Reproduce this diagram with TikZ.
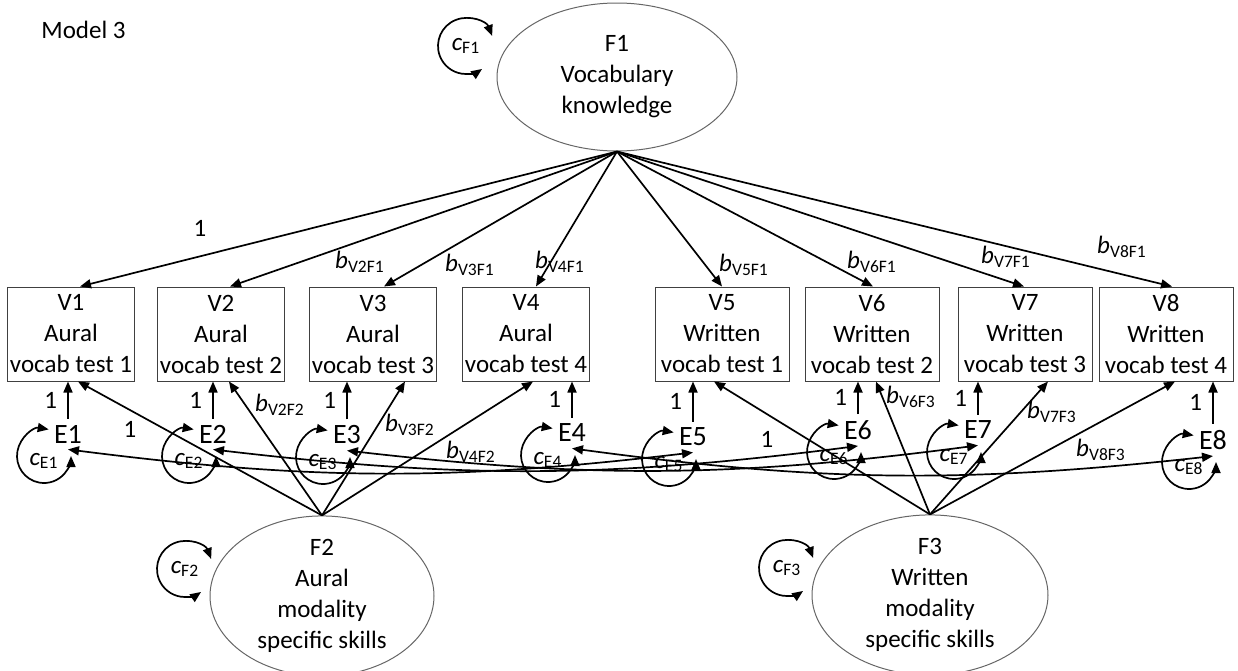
\documentclass[tikz,border=0pt,12pt]{standalone}
\usepackage{fontspec}
\setmainfont{Carlito}
\usetikzlibrary{arrows.meta, shapes.geometric}

\tikzset{
  every node/.style={font=\fontsize{12.5}{15.5}\selectfont},
  latent/.style={ellipse, draw=black!60, line width=0.5pt, inner sep=0pt, align=center},
  manifest/.style={rectangle, draw=black!75, line width=0.5pt, minimum height=47pt, inner sep=1pt, align=center},
  err/.style={inner sep=3pt, font=\fontsize{14}{16}\selectfont},
  conn/.style={line width=0.85pt},
  lab/.style={inner sep=0pt},
}

\begin{document}
\begin{tikzpicture}[x=0.5pt, y=0.5pt, >={Triangle[length=5.5pt,width=4.5pt]}]
\useasboundingbox (0,0) rectangle (1238,-670);

\node[anchor=west] (title) at (33,-30) {Model 3};

% Latent factors
\node[latent, minimum width=120pt, minimum height=74pt] (F1) at (617,-77) {F1\\Vocabulary\\knowledge};
\node[latent, minimum width=112pt, minimum height=72pt] (F2) at (322,-596) {F2\\Aural\\modality\\specific skills};
\node[latent, minimum width=118pt, minimum height=72pt] (F3) at (930,-595) {F3\\Written\\modality\\specific skills};

% Observed tests
\foreach \i/\x/\kind/\n/\w in {1/71/Aural/1/63, 2/221/Aural/2/63, 3/373/Aural/3/63, 4/526/Aural/4/63,
    5/722/Written/1/67, 6/872/Written/2/67, 7/1025/Written/3/67, 8/1166/Written/4/67}
  \node[manifest, minimum width=\w pt] (V\i) at (\x,-334) {V\i\\\kind\\vocab test \n};

% Error terms
\foreach \i/\x/\y in {1/68/434, 2/213/434, 3/347/435, 4/572/433, 5/693/437, 6/858/430, 7/978/430, 8/1213/440}
  \node[err] (E\i) at (\x,-\y) {E\i};

% Loadings of F1
\foreach \i/\dx in {1/9, 2/9, 3/11, 4/10, 5/0, 6/1, 7/-1, 8/6}
  \draw[->, conn] (F1.south) -- ([shift={(\dx,0)}]V\i.north);
\node[lab] (l11) at (200,-228) {1};
\foreach \i/\x/\y in {2/360/262, 3/470/265, 4/560/262, 5/744/265, 6/872/262, 7/1006/257, 8/1122/247}
  \node[lab] (l\i1) at (\x,-\y) {\textit{b}\textsubscript{V\i F1}};

% Loadings of F2 and F3
\foreach \i/\dx in {1/7, 2/8, 3/32, 4/7}
  \draw[->, conn] (F2.north) -- ([shift={(\dx,0)}]V\i.south);
\foreach \i/\dx in {5/-8, 6/4, 7/23, 8/9}
  \draw[->, conn] (F3.north) -- ([shift={(\dx,0)}]V\i.south);
\node[lab] (l12) at (130,-429) {1};
\node[lab] (l53) at (767,-439) {1};
\foreach \i/\f/\x/\y in {2/2/280/405, 3/2/410/425, 4/2/471/452, 6/3/911/397, 7/3/1052/412, 8/3/1101/450}
  \node[lab] (l\i\f) at (\x,-\y) {\textit{b}\textsubscript{V\i F\f}};

% Error paths
\foreach \i in {1,...,8}
  \draw[->, conn] (E\i.north) -- node[left=5pt, lab] (le\i) {1} (E\i.north |- V\i.south);

% Error covariances
\foreach \i/\j in {1/5, 2/6, 3/7, 4/8}
  \draw[<->, conn] (E\i.south) to[bend right=7] (E\j.south);

% Variances
\foreach \i in {1,...,8} {
  \coordinate (cE\i) at ([shift={(-24,-22)}]E\i);
  \draw[<->, conn] ([shift={(80:27)}]cE\i) arc[start angle=80, end angle=360, radius=27];
  \node[lab] (vE\i) at ([shift={(0,-5)}]cE\i) {\textit{c}\textsubscript{E\i}};
}
\coordinate (cF1) at (466,-46);
\coordinate (cF2) at (185,-569);
\coordinate (cF3) at (787,-568);
\foreach \f in {1,2,3} {
  \draw[<->, conn] ([shift={(21:28)}]cF\f) arc[start angle=21, end angle=305, radius=28];
  \node[lab] (vF\f) at (cF\f) {\textit{c}\textsubscript{F\f}};
}
\end{tikzpicture}
\end{document}
